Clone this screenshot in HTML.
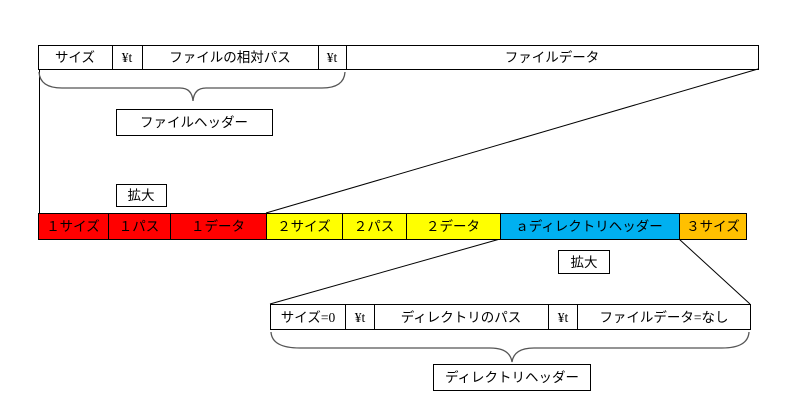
<!DOCTYPE html>
<html><head><meta charset="utf-8"><style>
html,body{margin:0;padding:0;background:#fff;}
svg{display:block;}
text{font-family:"Liberation Serif","Noto Sans CJK JP",serif;font-size:13.5px;fill:#000;}
</style></head><body>
<svg width="786" height="412" viewBox="0 0 786 412" xmlns="http://www.w3.org/2000/svg">
<g stroke="#000" stroke-width="1" fill="none">
<rect x="38.5" y="45.5" width="720" height="24" fill="#fff"/>
<line x1="112.5" y1="45" x2="112.5" y2="70"/>
<line x1="142.5" y1="45" x2="142.5" y2="70"/>
<line x1="318.5" y1="45" x2="318.5" y2="70"/>
<line x1="346.5" y1="45" x2="346.5" y2="70"/>
<line x1="39.5" y1="70" x2="39.5" y2="213"/>
<line x1="266" y1="213" x2="758" y2="69"/>
<line x1="500" y1="239" x2="270" y2="304"/>
<line x1="679" y1="239" x2="750" y2="304"/>
</g>
<path d="M39,72 Q40,88 62,88 L180,88 Q192,88 193,101 Q194,88 206,88 L322,88 Q344,88 345,72" stroke="#555" stroke-width="1.3" fill="none"/>
<path d="M271,332 Q272,348 300,348 L490,348 Q510,348 512,362 Q514,348 534,348 L722,348 Q748,348 749,332" stroke="#555" stroke-width="1.3" fill="none"/>
<g text-anchor="middle">
<text x="75" y="62">サイズ</text>
<text x="127" y="62">¥t</text>
<text x="230" y="62">ファイルの相対パス</text>
<text x="332" y="62">¥t</text>
<text x="552" y="62">ファイルデータ</text>
</g>
<rect x="116.5" y="109.5" width="156" height="26" fill="#fff" stroke="#000"/>
<text x="194" y="127" text-anchor="middle">ファイルヘッダー</text>
<rect x="116.5" y="184.5" width="50" height="22" fill="#fff" stroke="#000"/>
<text x="141" y="200" text-anchor="middle">拡大</text>
<g stroke="#000" stroke-width="1">
<rect x="38.5" y="213.5" width="70" height="26" fill="#f00"/>
<rect x="108.5" y="213.5" width="62" height="26" fill="#f00"/>
<rect x="170.5" y="213.5" width="96" height="26" fill="#f00"/>
<rect x="266.5" y="213.5" width="76" height="26" fill="#ff0"/>
<rect x="342.5" y="213.5" width="64" height="26" fill="#ff0"/>
<rect x="406.5" y="213.5" width="94" height="26" fill="#ff0"/>
<rect x="500.5" y="213.5" width="179" height="26" fill="#00b0f0"/>
<rect x="679.5" y="213.5" width="67" height="26" fill="#ffc000"/>
</g>
<g text-anchor="middle">
<text x="73" y="231">１サイズ</text>
<text x="139" y="231">１パス</text>
<text x="218" y="231">１データ</text>
<text x="304" y="231">２サイズ</text>
<text x="374" y="231">２パス</text>
<text x="453" y="231">２データ</text>
<text x="589" y="231">ａディレクトリヘッダー</text>
<text x="713" y="231">３サイズ</text>
</g>
<rect x="558.5" y="250.5" width="51" height="23" fill="#fff" stroke="#000"/>
<text x="584" y="267" text-anchor="middle">拡大</text>
<g stroke="#000" fill="#fff">
<rect x="270.5" y="304.5" width="480" height="25"/>
<line x1="345.5" y1="304" x2="345.5" y2="330"/>
<line x1="374.5" y1="304" x2="374.5" y2="330"/>
<line x1="548.5" y1="304" x2="548.5" y2="330"/>
<line x1="577.5" y1="304" x2="577.5" y2="330"/>
</g>
<g text-anchor="middle">
<text x="308" y="322">サイズ=0</text>
<text x="360" y="322">¥t</text>
<text x="461" y="322">ディレクトリのパス</text>
<text x="563" y="322">¥t</text>
<text x="664" y="322">ファイルデータ=なし</text>
</g>
<rect x="433.5" y="364.5" width="157" height="26" fill="#fff" stroke="#000"/>
<text x="512" y="382" text-anchor="middle">ディレクトリヘッダー</text>
</svg>
</body></html>
